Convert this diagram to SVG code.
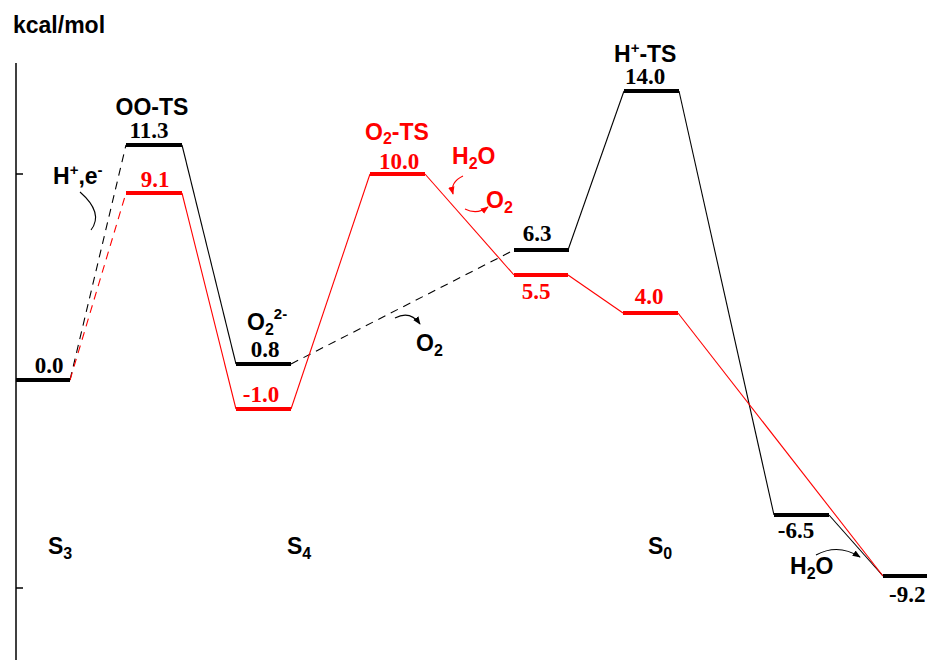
<svg xmlns="http://www.w3.org/2000/svg" width="927" height="660" viewBox="0 0 927 660">
<style>
.lab{font-family:"Liberation Sans",Arial,sans-serif;font-weight:bold;font-size:23px}
.num{font-family:"Liberation Serif","Times New Roman",serif;font-weight:bold;font-size:23px}
.blk{fill:#000}
.red{fill:#ff0000}
.barb{stroke:#000;stroke-width:4;fill:none}
.barr{stroke:#ff0000;stroke-width:4;fill:none}
.cb{stroke:#000;stroke-width:1.1;fill:none}
.cr{stroke:#ff0000;stroke-width:1.1;fill:none}
.dash{stroke-dasharray:8,6}
.sub{font-size:16px}
.sup{font-size:15px}
</style>
<defs>
<marker id="ab" viewBox="0 0 10 10" refX="9" refY="5" markerWidth="8" markerHeight="8" markerUnits="userSpaceOnUse" orient="auto"><path d="M0,1 L10,5 L0,9 Z" fill="#000"/></marker>
<marker id="ar" viewBox="0 0 10 10" refX="9" refY="5" markerWidth="8" markerHeight="8" markerUnits="userSpaceOnUse" orient="auto"><path d="M0,1 L10,5 L0,9 Z" fill="#ff0000"/></marker>
</defs>
<rect width="927" height="660" fill="#fff"/>
<g id="axis">
<text class="lab blk" x="13" y="33" font-size="24">kcal/mol</text>
<line x1="16" y1="63" x2="16" y2="660" stroke="#000" stroke-width="1.5"/>
<line x1="16" y1="174" x2="23" y2="174" stroke="#000" stroke-width="1.5"/>
<line x1="16" y1="588" x2="23" y2="588" stroke="#000" stroke-width="1.5"/>
</g>
<g id="connectors">
<line class="cb dash" x1="70" y1="380" x2="126" y2="145"/>
<line class="cr dash" x1="70" y1="380" x2="126" y2="193"/>
<line class="cb" x1="182" y1="145" x2="236" y2="364"/>
<line class="cr" x1="182" y1="193" x2="236" y2="409"/>
<line class="cb dash" x1="291" y1="364" x2="514" y2="250"/>
<line class="cr" x1="291" y1="409" x2="370" y2="174"/>
<line class="cr" x1="425" y1="174" x2="514" y2="275"/>
<line class="cr" x1="568" y1="275" x2="623" y2="313"/>
<line class="cb" x1="568" y1="250" x2="624" y2="91"/>
<line class="cb" x1="679" y1="91" x2="774" y2="515"/>
<line class="cb" x1="829" y1="515" x2="883" y2="576"/>
<line class="cr" x1="678" y1="313" x2="883" y2="576"/>
</g>
<g id="arrows">
<path class="cb" d="M80,192 Q104,213 91,230"/>
<path class="cb" d="M395,318 Q410,310 420,324" marker-end="url(#ab)"/>
<path class="cr" d="M463,176 Q450,182 453,194" marker-end="url(#ar)"/>
<path class="cr" d="M465,209 Q477,215 488,207" marker-end="url(#ar)"/>
<path class="cb" d="M816,555 Q838,543 860,557" marker-end="url(#ab)"/>
</g>
<g id="S3_start">
<line class="barb" x1="16" y1="380" x2="70" y2="380"/>
<text class="num blk" x="49" y="373" text-anchor="middle">0.0</text>
</g>
<g id="he_label">
<text class="lab blk" x="53" y="184">H<tspan class="sup" dy="-9">+</tspan><tspan dy="9">,e</tspan><tspan class="sup" dy="-9">-</tspan></text>
</g>
<g id="OO_TS">
<line class="barb" x1="126" y1="145" x2="182" y2="145"/>
<text class="lab blk" x="152" y="115" text-anchor="middle">OO-TS</text>
<text class="num blk" x="149" y="138" text-anchor="middle">11.3</text>
</g>
<g id="OO_TS_red">
<line class="barr" x1="126" y1="193" x2="182" y2="193"/>
<text class="num red" x="155" y="187" text-anchor="middle">9.1</text>
</g>
<g id="O2_2minus">
<line class="barb" x1="236" y1="364" x2="291" y2="364"/>
<text class="lab blk" x="247" y="330">O<tspan class="sub" dy="5">2</tspan><tspan class="sup" dy="-16">2-</tspan></text>
<text class="num blk" x="265" y="357" text-anchor="middle">0.8</text>
</g>
<g id="S4_red">
<line class="barr" x1="236" y1="409" x2="291" y2="409"/>
<text class="num red" x="261" y="402" text-anchor="middle">-1.0</text>
</g>
<g id="O2_TS">
<line class="barr" x1="370" y1="174" x2="425" y2="174"/>
<text class="lab red" x="365" y="140">O<tspan class="sub" dy="4">2</tspan><tspan dy="-4">-TS</tspan></text>
<text class="num red" x="399" y="169" text-anchor="middle">10.0</text>
</g>
<g id="red_species">
<text class="lab red" x="452" y="164">H<tspan class="sub" dy="5">2</tspan><tspan dy="-5">O</tspan></text>
<text class="lab red" x="486" y="208">O<tspan class="sub" dy="5">2</tspan></text>
</g>
<g id="mid_O2">
<text class="lab blk" x="416" y="351">O<tspan class="sub" dy="5">2</tspan></text>
</g>
<g id="int_63">
<line class="barb" x1="514" y1="250" x2="569" y2="250"/>
<text class="num blk" x="537" y="241" text-anchor="middle">6.3</text>
</g>
<g id="int_55">
<line class="barr" x1="514" y1="275" x2="568" y2="275"/>
<text class="num red" x="536" y="299" text-anchor="middle">5.5</text>
</g>
<g id="int_40">
<line class="barr" x1="623" y1="313" x2="678" y2="313"/>
<text class="num red" x="649" y="304" text-anchor="middle">4.0</text>
</g>
<g id="H_TS">
<line class="barb" x1="624" y1="91" x2="679" y2="91"/>
<text class="lab blk" x="614" y="62">H<tspan class="sup" dy="-9">+</tspan><tspan dy="9">-TS</tspan></text>
<text class="num blk" x="645" y="84" text-anchor="middle">14.0</text>
</g>
<g id="int_m65">
<line class="barb" x1="774" y1="515" x2="829" y2="515"/>
<text class="num blk" x="796" y="538" text-anchor="middle">-6.5</text>
</g>
<g id="int_m92">
<line class="barb" x1="883" y1="576" x2="927" y2="576"/>
<text class="num blk" x="889" y="602">-9.2</text>
<text class="lab blk" x="790" y="574">H<tspan class="sub" dy="5">2</tspan><tspan dy="-5">O</tspan></text>
</g>
<g id="states">
<text class="lab blk" x="48" y="554">S<tspan class="sub" dy="5">3</tspan></text>
<text class="lab blk" x="287" y="554">S<tspan class="sub" dy="5">4</tspan></text>
<text class="lab blk" x="648" y="554">S<tspan class="sub" dy="5">0</tspan></text>
</g>
</svg>
